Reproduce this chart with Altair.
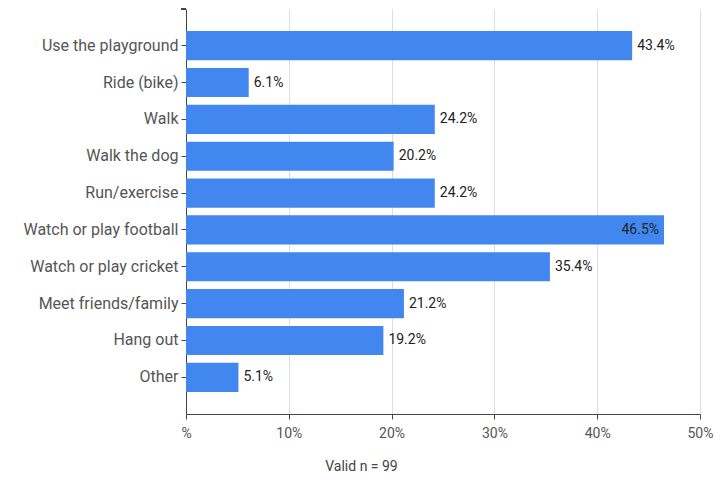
import altair as alt
import pandas as pd

categories = ["Use the playground", "Ride (bike)", "Walk", "Walk the dog", "Run/exercise",
              "Watch or play football", "Watch or play cricket", "Meet friends/family",
              "Hang out", "Other"]
values = [43.4, 6.1, 24.2, 20.2, 24.2, 46.5, 35.4, 21.2, 19.2, 5.1]
inside = [False, False, False, False, False, True, False, False, False, False]
tick_values = [0, 10, 20, 30, 40, 50]

df = pd.DataFrame({"cat": categories, "val": values, "inside": inside})
df["label"] = df["val"].map(lambda v: f"{v:.1f}%")

FONT = "Roboto"

x_enc = alt.X("val:Q", scale=alt.Scale(domain=[0, 50], nice=False),
              axis=alt.Axis(values=tick_values, grid=True, gridColor="#dddddd",
                            labelExpr="datum.value == 0 ? '%' : datum.label + '%'",
                            labelFont=FONT, labelFontSize=14, labelColor="#555555",
                            labelFlush=False, labelPadding=7, tickSize=5, tickColor="#444444",
                            domainColor="#444444", title="Valid n = 99",
                            titleFont=FONT, titleFontSize=14, titleFontWeight="normal",
                            titleColor="#444444", titleX=175, titleY=45,
                            titleBaseline="top", titleAlign="center"))
y_enc = alt.Y("cat:N", sort=categories,
              scale=alt.Scale(paddingInner=0.21, paddingOuter=0.6),
              axis=alt.Axis(title=None, labelFont=FONT, labelFontSize=16,
                            labelColor="#555555", tickSize=5, tickColor="#444444",
                            domainColor="#444444", labelPadding=3))

bars = alt.Chart(df).mark_bar(color="#4287f0").encode(x=x_enc, y=y_enc)

labels_out = alt.Chart(df).transform_filter("!datum.inside").mark_text(
    align="left", dx=5, font=FONT, fontSize=14, color="#222222"
).encode(x="val:Q", y=alt.Y("cat:N", sort=categories), text="label:N")

labels_in = alt.Chart(df).transform_filter("datum.inside").mark_text(
    align="right", dx=-5, font=FONT, fontSize=14, color="#222222"
).encode(x="val:Q", y=alt.Y("cat:N", sort=categories), text="label:N")

top_tick = alt.Chart(df).mark_rule(color="#444444").encode(
    x=alt.value(-5), x2=alt.value(0), y=alt.value(0))

chart = alt.layer(bars, labels_out, labels_in, top_tick).properties(
    width=514, height=405,
    autosize=alt.AutoSizeParams(type="none"),
    padding={"left": 178, "top": 1, "right": 14, "bottom": 61},
).configure_view(stroke=None)

chart.save("out.html", embed_options={"renderer": "svg", "actions": False})
